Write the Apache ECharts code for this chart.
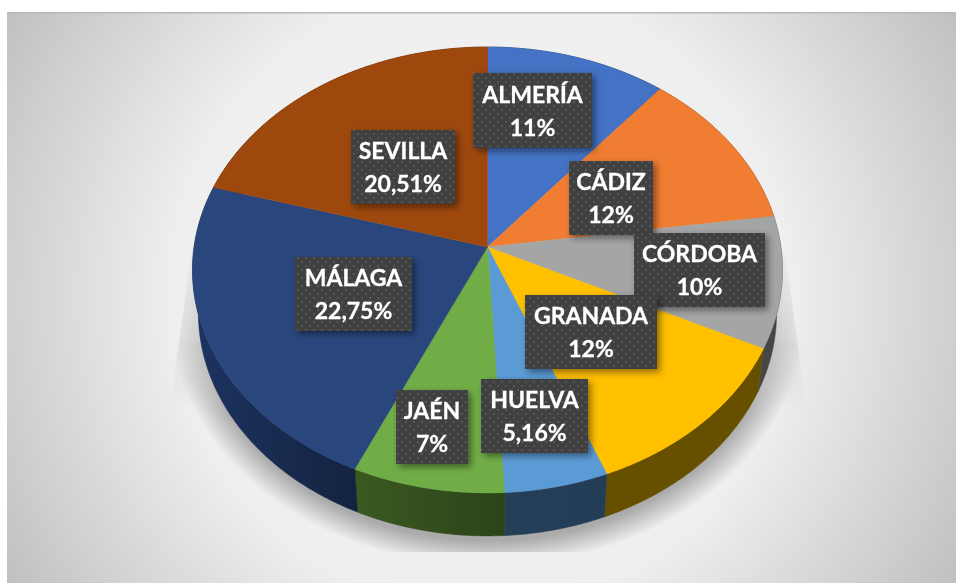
<!DOCTYPE html>
<html>
<head>
<meta charset="utf-8">
<title>Provincias</title>
<script src="https://cdn.jsdelivr.net/npm/echarts@6/dist/echarts.min.js"></script>
<style>
  html, body { margin: 0; padding: 0; background: #fff; }
  #chart { width: 956px; height: 583px; }
</style>
</head>
<body>
<div id="chart"></div>
<script>
// datos
var categories = ['ALMERÍA', 'CÁDIZ', 'CÓRDOBA', 'GRANADA', 'HUELVA', 'JAÉN', 'MÁLAGA', 'SEVILLA'];
var values = [10.94, 11.8, 9.5, 11.75, 5.16, 7.55, 22.75, 20.51];
var percentLabels = ['11%', '12%', '10%', '12%', '5,16%', '7%', '22,75%', '20,51%'];

var topColors = ['#4472C4', '#F07D31', '#A5A5A5', '#FFC000', '#5B9BD5', '#70AD47', '#2A477D', '#9E480E'];
var wallColors = ['#1B2E4F', '#5F3214', '#484848', '#665000', '#243F58', '#3A5A20', '#1D3461', '#3F1D06'];
var wallShades = ['#1B2E4F', '#5F3214', '#424242', '#665000', '#223D55', '#2D431A', '#13233F', '#3F1D06'];
// cajas de etiqueta [izquierda, arriba, ancho, alto]
var labelBoxes = [
  [473, 73, 119, 75], [569, 161, 84, 74], [634, 233, 131, 74], [525, 295, 132, 74],
  [481, 379, 107, 74], [396, 390, 72, 74], [295, 257, 117, 74], [351, 130, 104, 74]
];

var chart = echarts.init(document.getElementById('chart'));

// geometria de la tarta en perspectiva
var cx = 487.5, apexY = 247, perspective = 0.103;
var radiusX = 293.4, radiusY = 220.6;
var rimCenterY = 270, depth = 43, wallShrink = 0.98;
var total = values.reduce(function (a, b) { return a + b; }, 0);

function sliceAngles(i) {
  var before = 0;
  for (var k = 0; k < i; k++) before += values[k];
  return [before / total * Math.PI * 2, (before + values[i]) / total * Math.PI * 2];
}
function rimPoint(a) {
  var u = Math.sin(a), v = -Math.cos(a), w = 1 - perspective * v;
  return [cx + radiusX * u / w, apexY + radiusY * v / w];
}
function lowerPoint(p) {
  return [cx + (p[0] - cx) * wallShrink, p[1] + depth];
}
function rimPoints(range) {
  var pts = [], steps = Math.ceil((range[1] - range[0]) / 0.01);
  for (var s = 0; s <= steps; s++) {
    pts.push(rimPoint(range[0] + (range[1] - range[0]) * s / steps));
  }
  return pts;
}

// trama punteada de las etiquetas
function makeDots() {
  var c = document.createElement('canvas');
  c.width = 8; c.height = 8;
  var g = c.getContext('2d');
  g.fillStyle = '#404040';
  g.fillRect(0, 0, 8, 8);
  g.fillStyle = '#565656';
  g.fillRect(1, 1, 2, 2);
  g.fillRect(5, 5, 2, 2);
  return c;
}
var dots = makeDots();

// aleta lateral de la sombra, casi recta, que sube por los dos lados
function makeSliver() {
  var c = document.createElement('canvas');
  c.width = 956; c.height = 583;
  var g = c.getContext('2d');
  var side = g.createLinearGradient(174, 0, 803, 0);
  side.addColorStop(0, 'rgba(130,130,130,0.1)');
  side.addColorStop(0.05, 'rgba(130,130,130,0.5)');
  side.addColorStop(0.95, 'rgba(130,130,130,0.5)');
  side.addColorStop(1, 'rgba(130,130,130,0.1)');
  g.fillStyle = side;
  g.beginPath();
  g.moveTo(192, 250);
  g.lineTo(173, 385);
  g.lineTo(173, 410);
  g.lineTo(804, 410);
  g.lineTo(804, 392);
  g.lineTo(785, 250);
  g.closePath();
  g.fill();
  g.globalCompositeOperation = 'destination-in';
  var fade = g.createLinearGradient(0, 250, 0, 408);
  fade.addColorStop(0, 'rgba(0,0,0,0.05)');
  fade.addColorStop(0.6, 'rgba(0,0,0,0.8)');
  fade.addColorStop(1, 'rgba(0,0,0,0)');
  g.fillStyle = fade;
  g.fillRect(0, 0, 956, 583);
  return c;
}

// sombra bajo la tarta
function makeShadow() {
  var c = document.createElement('canvas');
  c.width = 956; c.height = 583;
  var g = c.getContext('2d');
  g.save();
  g.beginPath();
  g.rect(0, 0, 956, 552);
  g.clip();
  g.translate(cx, rimCenterY + depth);
  g.scale(318, 253);
  var rad = g.createRadialGradient(0, 0, 0, 0, 0, 1);
  rad.addColorStop(0, 'rgba(125,125,125,0.6)');
  rad.addColorStop(0.9, 'rgba(125,125,125,0.6)');
  rad.addColorStop(1, 'rgba(125,125,125,0)');
  g.fillStyle = rad;
  g.beginPath();
  g.arc(0, 0, 1, 0, Math.PI * 2);
  g.fill();
  g.restore();
  g.globalCompositeOperation = 'destination-in';
  var fade = g.createLinearGradient(0, 340, 0, 410);
  fade.addColorStop(0, 'rgba(0,0,0,0)');
  fade.addColorStop(1, 'rgba(0,0,0,1)');
  g.fillStyle = fade;
  g.fillRect(0, 0, 956, 583);
  g.globalCompositeOperation = 'source-over';
  g.drawImage(makeSliver(), 0, 0);
  return c;
}

var sliceData = categories.map(function (name, i) {
  return { name: name, value: values[i] };
});

chart.setOption({
  animation: false,
  backgroundColor: '#fff',
  graphic: [
    {
      type: 'rect', z: 0,
      shape: { x: 7, y: 12, width: 949, height: 571 },
      style: {
        fill: {
          type: 'radial', x: 481, y: 297, r: 560, global: true,
          colorStops: [
            { offset: 0, color: '#f2f2f2' },
            { offset: 0.55, color: '#efefef' },
            { offset: 1, color: '#bfbfbf' }
          ]
        }
      }
    },
    { type: 'rect', z: 0, shape: { x: 7, y: 12, width: 949, height: 1.5 }, style: { fill: '#b8b8b8' } },
    { type: 'image', z: 1, x: 0, y: 0, style: { image: makeShadow(), width: 956, height: 583 } }
  ],
  series: [
    {
      // paredes
      type: 'custom', coordinateSystem: 'none', z: 2, data: sliceData,
      renderItem: function (params) {
        var i = params.dataIndex;
        var upper = rimPoints(sliceAngles(i));
        var lower = upper.map(lowerPoint).reverse();
        var fill = {
          type: 'linear', x: 0, y: 0, x2: 1, y2: 0,
          colorStops: [{ offset: 0, color: wallColors[i] }, { offset: 1, color: wallShades[i] }]
        };
        return {
          type: 'polygon',
          shape: { points: upper.concat(lower) },
          style: { fill: fill, stroke: wallShades[i], lineWidth: 0.5 }
        };
      }
    },
    {
      // cara superior
      type: 'custom', coordinateSystem: 'none', z: 3, data: sliceData,
      renderItem: function (params) {
        var i = params.dataIndex;
        return {
          type: 'polygon',
          shape: { points: [[cx, apexY]].concat(rimPoints(sliceAngles(i))) },
          style: { fill: topColors[i], stroke: topColors[i], lineWidth: 0.5 }
        };
      }
    },
    {
      // etiquetas
      type: 'custom', coordinateSystem: 'none', z: 4, data: sliceData,
      renderItem: function (params) {
        var i = params.dataIndex, b = labelBoxes[i];
        var font = '700 23px Lato';
        return {
          type: 'group',
          children: [
            {
              type: 'rect',
              shape: { x: b[0], y: b[1], width: b[2], height: b[3] },
              style: {
                fill: { image: dots, repeat: 'repeat' },
                shadowBlur: 7, shadowOffsetX: 3, shadowOffsetY: 3, shadowColor: 'rgba(0,0,0,0.45)'
              }
            },
            {
              type: 'text', x: b[0] + b[2] / 2, y: b[1] + b[3] / 2 - 15,
              style: { text: categories[i], font: font, fill: '#fff', stroke: '#fff', lineWidth: 0.3, align: 'center', verticalAlign: 'middle' }
            },
            {
              type: 'text', x: b[0] + b[2] / 2, y: b[1] + b[3] / 2 + 18,
              style: { text: percentLabels[i], font: font, fill: '#fff', stroke: '#fff', lineWidth: 0.3, align: 'center', verticalAlign: 'middle' }
            }
          ]
        };
      }
    }
  ]
});
</script>
</body>
</html>
